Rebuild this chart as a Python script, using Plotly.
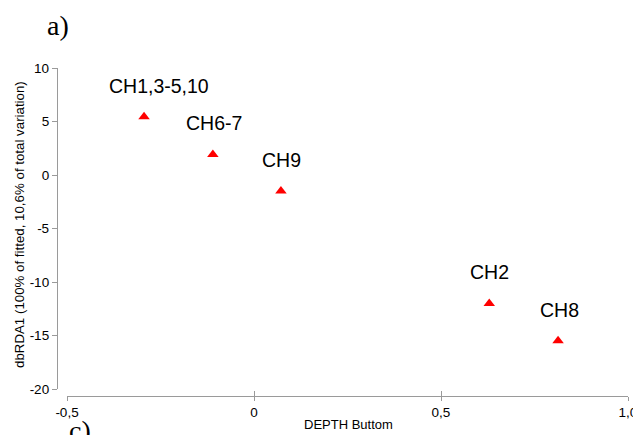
import plotly.graph_objects as go

# Data
labels = ["CH1,3-5,10", "CH6-7", "CH9", "CH2", "CH8"]
depth = [-0.294, -0.110, 0.072, 0.629, 0.813]
dbrda1 = [5.44, 1.92, -1.50, -12.0, -15.5]

x_tickvals = [-0.5, 0.0, 0.5, 1.0]
x_ticktext = ["-0,5", "0", "0,5", "1,0"]
y_tickvals = [-20, -15, -10, -5, 0, 5, 10]
y_ticktext = ["-20", "-15", "-10", "-5", "0", "5", "10"]

# label offsets (pixels) relative to each point
label_dx = [15, 1, 1, 0, 1]
label_dy = 31

W, H = 641, 435
OFF = 8  # default page body margin
# target plot-area pixels on screen
LEFT, RIGHT, TOP, BOTTOM = 57, 628, 68, 396
ML = LEFT - OFF
MT = TOP - OFF
MR = W - (RIGHT - OFF)
MB = H - (BOTTOM - OFF)
PW = RIGHT - LEFT
PH = BOTTOM - TOP

AX_COL = "#9a9a9a"
FONT = "Liberation Sans, Arial, sans-serif"

fig = go.Figure()
fig.add_trace(go.Scatter(
    x=depth, y=dbrda1, mode="markers",
    marker=dict(symbol="triangle-up", size=10, color="#ff0000", line=dict(width=0)),
    hoverinfo="skip", showlegend=False, xaxis="x", yaxis="y",
))
# invisible trace so the crossing-tick overlay axis is drawn
fig.add_trace(go.Scatter(
    x=depth, y=dbrda1, mode="markers", marker=dict(opacity=0),
    hoverinfo="skip", showlegend=False, xaxis="x2", yaxis="y",
))

for lab, xv, yv, dx in zip(labels, depth, dbrda1, label_dx):
    fig.add_annotation(x=xv, y=yv, xref="x", yref="y", text=lab, showarrow=False,
                       xshift=dx, yshift=label_dy,
                       font=dict(family=FONT, size=19.5, color="black"))

x_dom = [10 / PW, 1]
y_dom = [7 / PH, 1]

fig.update_layout(
    width=W, height=H,
    margin=dict(l=ML, r=MR, t=MT, b=MB, autoexpand=False),
    paper_bgcolor="white", plot_bgcolor="white",
    xaxis=dict(domain=x_dom, range=[-0.5, 1.0], anchor="free", position=0,
               showline=True, linecolor=AX_COL, linewidth=1.3,
               ticks="outside", ticklen=4, tickcolor=AX_COL, tickwidth=1.3,
               tickvals=x_tickvals, ticktext=x_ticktext,
               tickfont=dict(family=FONT, size=13.5, color="black"),
               showgrid=False, zeroline=False, fixedrange=True),
    xaxis2=dict(overlaying="x", matches="x", anchor="free", position=0,
                range=[-0.5, 1.0], showline=False,
                ticks="inside", ticklen=5, tickcolor=AX_COL, tickwidth=1.3,
                tickvals=x_tickvals, showticklabels=False,
                showgrid=False, zeroline=False, fixedrange=True),
    yaxis=dict(domain=y_dom, range=[-20, 10], anchor="free", position=0,
               showline=True, linecolor=AX_COL, linewidth=1.3,
               ticks="outside", ticklen=5, tickcolor=AX_COL, tickwidth=1.3,
               tickvals=y_tickvals, ticktext=y_ticktext,
               tickfont=dict(family=FONT, size=13.5, color="black"),
               showgrid=False, zeroline=False, fixedrange=True),
)

def px_x(p):
    return (p - LEFT) / PW

def px_y(p):
    return (BOTTOM - p) / PH

# axis titles
fig.add_annotation(x=px_x(348), y=px_y(424), xref="paper", yref="paper",
                   text="DEPTH Buttom", showarrow=False,
                   xanchor="center", yanchor="middle",
                   font=dict(family=FONT, size=13, color="black"))
fig.add_annotation(x=px_x(19), y=px_y(225), xref="paper", yref="paper",
                   text="dbRDA1 (100% of fitted, 10,6% of total variation)",
                   showarrow=False, textangle=-90,
                   xanchor="center", yanchor="middle",
                   font=dict(family=FONT, size=13.3, color="black"))
# panel letters
fig.add_annotation(x=px_x(58), y=px_y(25), xref="paper", yref="paper",
                   text="a)", showarrow=False, xanchor="center", yanchor="middle",
                   font=dict(family="Liberation Serif, Times New Roman, serif", size=28, color="black"))
fig.add_annotation(x=px_x(80), y=px_y(430), xref="paper", yref="paper",
                   text="c)", showarrow=False, xanchor="center", yanchor="middle",
                   font=dict(family="Liberation Serif, Times New Roman, serif", size=28, color="black"))

fig.write_html("out.html", config={"displayModeBar": False})
